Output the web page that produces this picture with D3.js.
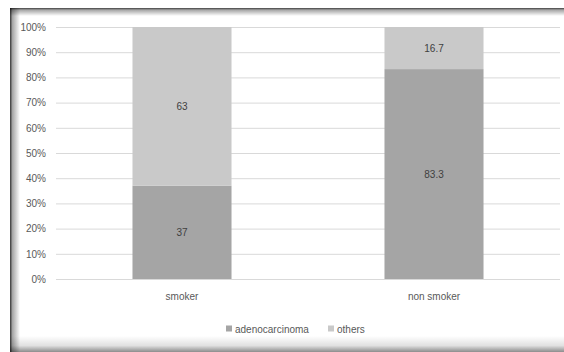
<!DOCTYPE html>
<html>
<head>
<meta charset="utf-8">
<script src="https://cdn.jsdelivr.net/npm/d3@7/dist/d3.min.js"></script>
<style>
  html, body { margin: 0; padding: 0; background: #ffffff; }
  svg { display: block; font-family: "Liberation Sans", Arial, sans-serif; }
</style>
</head>
<body>
<svg id="chart" width="564" height="352"></svg>
<script>
// Share of histology by smoking status (percent)
const categories = ["smoker", "non smoker"];
const seriesNames = ["adenocarcinoma", "others"];
const adenocarcinoma = [37, 83.3];
const others = [63, 16.7];
const yTicks = [0, 10, 20, 30, 40, 50, 60, 70, 80, 90, 100];
const colors = ["#a5a5a5", "#c9c9c9"];

const svg = d3.select("#chart");
const W = 564, H = 352;

// Frame with inner shading
const defs = svg.append("defs");
function grad(id, x1, y1, x2, y2, stops) {
  const g = defs.append("linearGradient").attr("id", id)
    .attr("x1", x1).attr("y1", y1).attr("x2", x2).attr("y2", y2);
  stops.forEach(s => g.append("stop").attr("offset", s[0]).attr("stop-color", s[1]).attr("stop-opacity", s[2]));
}
grad("gTop", 0, 0, 0, 1, [[0, "#000", 0.75], [0.25, "#000", 0.35], [1, "#000", 0]]);
grad("gLeft", 0, 0, 1, 0, [[0, "#000", 0.8], [0.25, "#000", 0.35], [1, "#000", 0]]);
grad("gBottom", 0, 0, 0, 1, [[0, "#000", 0], [0.6, "#000", 0.12], [1, "#000", 0.45]]);

svg.append("rect").attr("x", 0).attr("y", 0).attr("width", W).attr("height", H).attr("fill", "#ffffff");
svg.append("rect").attr("x", 10).attr("y", 8).attr("width", W - 10).attr("height", 8).attr("fill", "url(#gTop)");
svg.append("rect").attr("x", 10).attr("y", 8).attr("width", 10).attr("height", H - 8).attr("fill", "url(#gLeft)");
svg.append("rect").attr("x", 10).attr("y", 336).attr("width", W - 10).attr("height", 16).attr("fill", "url(#gBottom)");

// Plot area
const plot = { left: 56, right: 560, top: 27, bottom: 279 };

const x = d3.scaleBand().domain(categories).range([plot.left, plot.right]).paddingInner(0.607).paddingOuter(0.3035);
const y = d3.scaleLinear().domain([0, 100]).range([plot.bottom, plot.top]);

// Gridlines
svg.append("g").selectAll("line").data(yTicks).join("line")
  .attr("x1", plot.left).attr("x2", plot.right)
  .attr("y1", d => y(d) + 0.5).attr("y2", d => y(d) + 0.5)
  .attr("stroke", "#d9d9d9").attr("stroke-width", 1);

// Y axis labels
const yAxis = d3.axisLeft(y).tickValues(yTicks).tickFormat(d => d + "%").tickSize(0).tickPadding(10);
const yg = svg.append("g").attr("transform", `translate(${plot.left},0)`).call(yAxis);
yg.select(".domain").remove();
yg.selectAll("text").attr("fill", "#595959").attr("font-size", 10);

// Stacked bars
const rows = categories.map((c, i) => ({ cat: c, adenocarcinoma: adenocarcinoma[i], others: others[i] }));
const stacked = d3.stack().keys(seriesNames)(rows);

const layers = svg.append("g").selectAll("g").data(stacked).join("g")
  .attr("fill", (d, i) => colors[i]);
layers.selectAll("rect").data(d => d).join("rect")
  .attr("x", d => x(d.data.cat))
  .attr("width", x.bandwidth())
  .attr("y", d => y(d[1]))
  .attr("height", d => y(d[0]) - y(d[1]));

// Value labels
layers.each(function (layer) {
  d3.select(this).selectAll("text").data(layer).join("text")
    .attr("x", d => x(d.data.cat) + x.bandwidth() / 2)
    .attr("y", d => (y(d[0]) + y(d[1])) / 2 + 3.5)
    .attr("text-anchor", "middle")
    .attr("font-size", 10)
    .attr("fill", "#404040")
    .text(d => d.data[layer.key]);
});

// X axis labels
const xAxis = d3.axisBottom(x).tickSize(0).tickPadding(14);
const xg = svg.append("g").attr("transform", `translate(0,${plot.bottom})`).call(xAxis);
xg.select(".domain").remove();
xg.selectAll("text").attr("fill", "#595959").attr("font-size", 10);

// Legend
const legendItems = [
  { name: seriesNames[0], color: colors[0], x: 226 },
  { name: seriesNames[1], color: colors[1], x: 328 }
];
const lg = svg.append("g").selectAll("g").data(legendItems).join("g")
  .attr("transform", d => `translate(${d.x},329)`);
lg.append("rect").attr("x", 0).attr("y", -3.5).attr("width", 6).attr("height", 6).attr("fill", d => d.color);
lg.append("text").attr("x", 9).attr("y", 3.5).attr("font-size", 10).attr("fill", "#595959").text(d => d.name);
</script>
</body>
</html>
